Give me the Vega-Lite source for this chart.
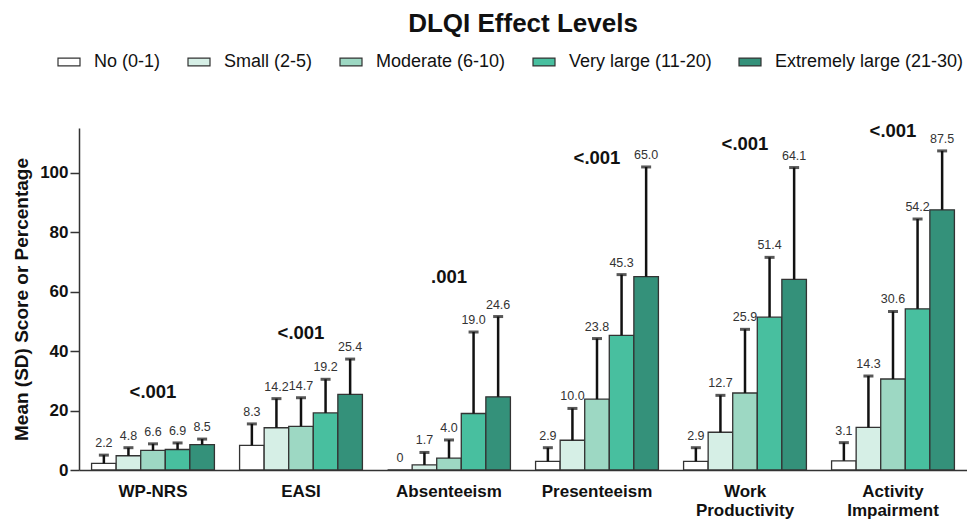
{
  "$schema": "https://vega.github.io/schema/vega-lite/v6.json",
  "width": 888,
  "height": 342,
  "autosize": {"type": "none"},
  "padding": {"left": 79, "top": 128, "right": 0, "bottom": 49},
  "title": {
    "text": "DLQI Effect Levels",
    "font": "Liberation Sans",
    "fontSize": 26,
    "fontWeight": "bold",
    "color": "#111",
    "anchor": "middle",
    "dy": -9
  },
  "config": {
    "view": {"stroke": null},
    "font": "Liberation Sans"
  },
  "datasets": {
    "bars": [
      {"measure": "WP-NRS", "level": "No (0-1)", "mean": 2.2, "upper": 5.0, "label": "2.2"},
      {"measure": "WP-NRS", "level": "Small (2-5)", "mean": 4.8, "upper": 7.5, "label": "4.8"},
      {"measure": "WP-NRS", "level": "Moderate (6-10)", "mean": 6.6, "upper": 8.8, "label": "6.6"},
      {"measure": "WP-NRS", "level": "Very large (11-20)", "mean": 6.9, "upper": 9.1, "label": "6.9"},
      {"measure": "WP-NRS", "level": "Extremely large (21-30)", "mean": 8.5, "upper": 10.4, "label": "8.5"},
      {"measure": "EASI", "level": "No (0-1)", "mean": 8.3, "upper": 15.5, "label": "8.3"},
      {"measure": "EASI", "level": "Small (2-5)", "mean": 14.2, "upper": 24.0, "label": "14.2"},
      {"measure": "EASI", "level": "Moderate (6-10)", "mean": 14.7, "upper": 24.3, "label": "14.7"},
      {"measure": "EASI", "level": "Very large (11-20)", "mean": 19.2, "upper": 30.5, "label": "19.2"},
      {"measure": "EASI", "level": "Extremely large (21-30)", "mean": 25.4, "upper": 37.3, "label": "25.4"},
      {"measure": "Absenteeism", "level": "No (0-1)", "mean": 0, "upper": 0, "label": "0"},
      {"measure": "Absenteeism", "level": "Small (2-5)", "mean": 1.7, "upper": 5.9, "label": "1.7"},
      {"measure": "Absenteeism", "level": "Moderate (6-10)", "mean": 4.0, "upper": 10.1, "label": "4.0"},
      {"measure": "Absenteeism", "level": "Very large (11-20)", "mean": 19.0, "upper": 46.4, "label": "19.0"},
      {"measure": "Absenteeism", "level": "Extremely large (21-30)", "mean": 24.6, "upper": 51.6, "label": "24.6"},
      {"measure": "Presenteeism", "level": "No (0-1)", "mean": 2.9, "upper": 7.5, "label": "2.9"},
      {"measure": "Presenteeism", "level": "Small (2-5)", "mean": 10.0, "upper": 20.7, "label": "10.0"},
      {"measure": "Presenteeism", "level": "Moderate (6-10)", "mean": 23.8, "upper": 44.2, "label": "23.8"},
      {"measure": "Presenteeism", "level": "Very large (11-20)", "mean": 45.3, "upper": 65.7, "label": "45.3"},
      {"measure": "Presenteeism", "level": "Extremely large (21-30)", "mean": 65.0, "upper": 101.9, "label": "65.0"},
      {"measure": "Work Productivity", "level": "No (0-1)", "mean": 2.9, "upper": 7.5, "label": "2.9"},
      {"measure": "Work Productivity", "level": "Small (2-5)", "mean": 12.7, "upper": 25.1, "label": "12.7"},
      {"measure": "Work Productivity", "level": "Moderate (6-10)", "mean": 25.9, "upper": 47.3, "label": "25.9"},
      {"measure": "Work Productivity", "level": "Very large (11-20)", "mean": 51.4, "upper": 71.5, "label": "51.4"},
      {"measure": "Work Productivity", "level": "Extremely large (21-30)", "mean": 64.1, "upper": 101.7, "label": "64.1"},
      {"measure": "Activity Impairment", "level": "No (0-1)", "mean": 3.1, "upper": 9.2, "label": "3.1"},
      {"measure": "Activity Impairment", "level": "Small (2-5)", "mean": 14.3, "upper": 31.6, "label": "14.3"},
      {"measure": "Activity Impairment", "level": "Moderate (6-10)", "mean": 30.6, "upper": 53.3, "label": "30.6"},
      {"measure": "Activity Impairment", "level": "Very large (11-20)", "mean": 54.2, "upper": 84.4, "label": "54.2"},
      {"measure": "Activity Impairment", "level": "Extremely large (21-30)", "mean": 87.5, "upper": 107.3, "label": "87.5"}
    ],
    "pvals": [
      {"measure": "WP-NRS", "p": "<.001", "ypos": 26.2},
      {"measure": "EASI", "p": "<.001", "ypos": 46},
      {"measure": "Absenteeism", "p": ".001", "ypos": 65},
      {"measure": "Presenteeism", "p": "<.001", "ypos": 105},
      {"measure": "Work Productivity", "p": "<.001", "ypos": 109.5},
      {"measure": "Activity Impairment", "p": "<.001", "ypos": 114}
    ]
  },
  "encoding": {
    "x": {
      "field": "measure",
      "type": "nominal",
      "sort": ["WP-NRS", "EASI", "Absenteeism", "Presenteeism", "Work Productivity", "Activity Impairment"],
      "scale": {"paddingInner": 0.17, "paddingOuter": 0.085},
      "axis": {
        "title": null,
        "labelAngle": 0,
        "ticks": false,
        "labelPadding": 13,
        "labelFont": "Liberation Sans",
        "labelFontSize": 17,
        "labelFontWeight": "bold",
        "labelColor": "#111",
        "labelLineHeight": 19,
        "labelExpr": "split(datum.value, ' ')",
        "domainColor": "#333",
        "domainWidth": 1.5
      }
    }
  },
  "layer": [
    {
      "data": {"name": "bars"},
      "mark": {"type": "bar", "stroke": "#333", "strokeWidth": 1.3},
      "encoding": {
        "xOffset": {
          "field": "level",
          "type": "nominal",
          "sort": ["No (0-1)", "Small (2-5)", "Moderate (6-10)", "Very large (11-20)", "Extremely large (21-30)"],
          "scale": {"paddingInner": 0, "paddingOuter": 0}
        },
        "y": {
          "field": "mean",
          "type": "quantitative",
          "scale": {"domain": [0, 115], "nice": false},
          "axis": {
            "title": "Mean (SD) Score or Percentage",
            "titleFont": "Liberation Sans",
            "titleFontSize": 19,
            "titleFontWeight": "bold",
            "titleColor": "#111",
            "titlePadding": 8,
            "values": [0, 20, 40, 60, 80, 100],
            "grid": false,
            "tickSize": 9,
            "tickColor": "#333",
            "tickWidth": 1.5,
            "labelPadding": 2,
            "labelFont": "Liberation Sans",
            "labelFontSize": 17,
            "labelFontWeight": "bold",
            "labelColor": "#111",
            "domainColor": "#333",
            "domainWidth": 1.5
          }
        },
        "fill": {
          "field": "level",
          "type": "nominal",
          "sort": ["No (0-1)", "Small (2-5)", "Moderate (6-10)", "Very large (11-20)", "Extremely large (21-30)"],
          "scale": {
            "domain": ["No (0-1)", "Small (2-5)", "Moderate (6-10)", "Very large (11-20)", "Extremely large (21-30)"],
            "range": ["#ffffff", "#d6efe6", "#9dd8c3", "#48bf9f", "#34917a"]
          },
          "legend": {
            "title": null,
            "orient": "none",
            "legendX": -22,
            "legendY": -78,
            "direction": "horizontal",
            "columns": 5,
            "symbolType": "M-1,-0.36H1V0.36H-1Z",
            "symbolSize": 484,
            "symbolStrokeColor": "#333",
            "symbolStrokeWidth": 1.2,
            "symbolOpacity": 1,
            "labelFont": "Liberation Sans",
            "labelFontSize": 18,
            "labelLimit": 0,
            "labelColor": "#111",
            "labelOffset": 13,
            "columnPadding": 24
          }
        }
      }
    },
    {
      "data": {"name": "bars"},
      "mark": {"type": "rule", "color": "#111", "strokeWidth": 2.5},
      "encoding": {
        "xOffset": {"field": "level", "type": "nominal", "sort": ["No (0-1)", "Small (2-5)", "Moderate (6-10)", "Very large (11-20)", "Extremely large (21-30)"]},
        "y": {"field": "mean", "type": "quantitative"},
        "y2": {"field": "upper"}
      }
    },
    {
      "data": {"name": "bars"},
      "transform": [{"filter": "datum.upper > datum.mean"}],
      "mark": {"type": "tick", "color": "#111", "size": 10, "thickness": 3, "orient": "horizontal"},
      "encoding": {
        "xOffset": {"field": "level", "type": "nominal", "sort": ["No (0-1)", "Small (2-5)", "Moderate (6-10)", "Very large (11-20)", "Extremely large (21-30)"]},
        "y": {"field": "upper", "type": "quantitative"}
      }
    },
    {
      "data": {"name": "bars"},
      "mark": {"type": "text", "baseline": "bottom", "dy": -5, "fontSize": 12.5, "color": "#333", "font": "Liberation Sans"},
      "encoding": {
        "xOffset": {"field": "level", "type": "nominal", "sort": ["No (0-1)", "Small (2-5)", "Moderate (6-10)", "Very large (11-20)", "Extremely large (21-30)"]},
        "y": {"field": "upper", "type": "quantitative"},
        "text": {"field": "label"}
      }
    },
    {
      "data": {"name": "pvals"},
      "mark": {"type": "text", "baseline": "middle", "fontSize": 18.5, "fontWeight": "bold", "color": "#111", "font": "Liberation Sans"},
      "encoding": {
        "y": {"field": "ypos", "type": "quantitative"},
        "text": {"field": "p"}
      }
    }
  ]
}
